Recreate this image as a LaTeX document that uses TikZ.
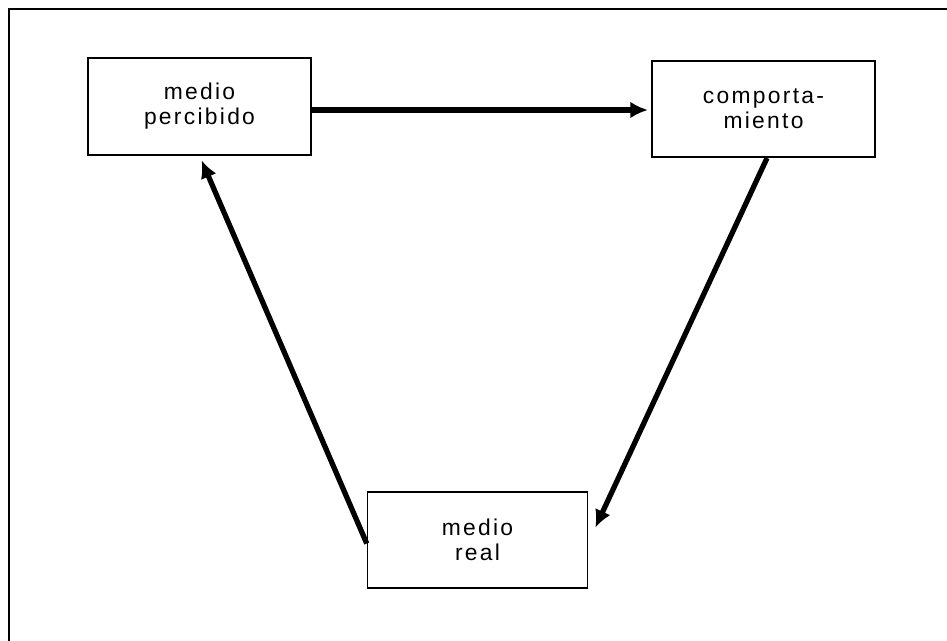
\documentclass[tikz,border=0pt]{standalone}
\usepackage{fontspec}
\setmainfont{Liberation Sans}
\newfontfamily\boxfont{Liberation Sans}[LetterSpace=10]
\usepackage{tikz}
\usetikzlibrary{arrows.meta}

\begin{document}
\begin{tikzpicture}[x=0.02cm, y=-0.02cm,
    box/.style={rectangle, draw, line width=0.9pt, minimum width=4.45cm, minimum height=1.93cm,
        align=center, font=\boxfont\fontsize{13}{14.2}\selectfont},
    flow/.style={-{Latex[length=10pt,width=9.5pt]}, line width=3pt}]
    \useasboundingbox (0,0) rectangle (947,641);
    % Frame
    \draw[line width=0.9pt] (9,641) -- (9,9) -- (947,9);

    % States
    \node[box] (percibido) at (199.5,106.5) {medio\\percibido};
    \node[box] (comport) at (763.5,109) {comporta-\\miento};
    \node[box, minimum width=4.4cm] (real) at (477.5,540) {medio\\real};

    % Transitions
    \draw[flow, shorten >=2pt] (percibido.east |- 0,110) -- (comport.west |- 0,110);
    \draw[flow] ([xshift=2pt]comport.south) -- ([xshift=4pt,yshift=7pt]real.east);
    \draw[flow, shorten >=3pt] ([yshift=-2pt]real.west) -- (percibido.south);
\end{tikzpicture}
\end{document}
